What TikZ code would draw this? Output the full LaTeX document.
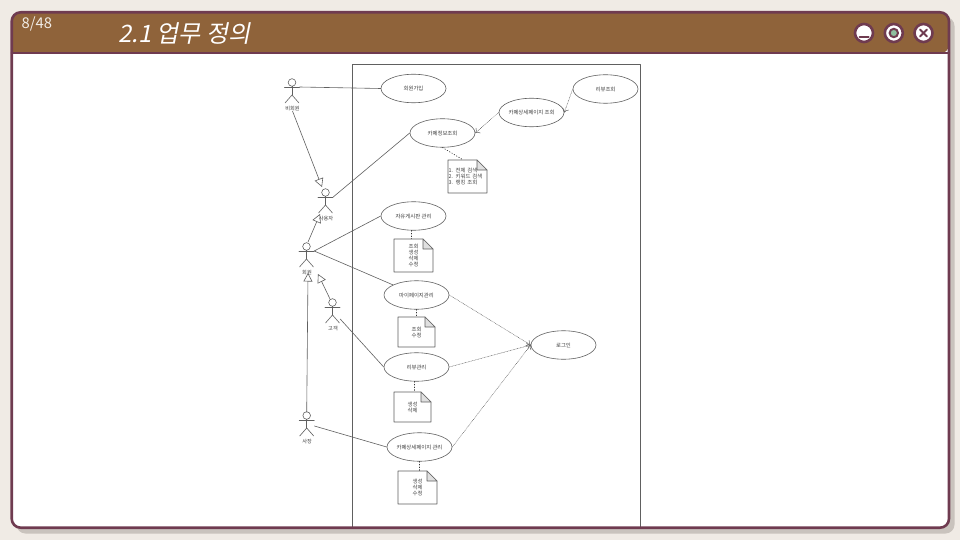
\documentclass[tikz,border=0pt]{standalone}
\usepackage{fontspec}
\setmainfont{Noto Sans CJK KR}
\newfontfamily\titlefont[FakeSlant=0.2]{Noto Sans CJK KR}
\usepackage{tikz}
\usetikzlibrary{shapes,arrows}
\usetikzlibrary{shapes.geometric}
\usetikzlibrary{arrows.meta}
\definecolor{pagebg}{HTML}{F0EBE5}
\definecolor{shadowc}{HTML}{C9C3BD}
\definecolor{framec}{HTML}{6F3B50}
\definecolor{headc}{HTML}{8F633A}
\definecolor{lampc}{HTML}{8FBF9F}
\definecolor{linec}{HTML}{606060}
\tikzstyle{every path}=[line cap=round,line join=round]
\tikzstyle{usecase}=[draw=linec,ellipse,line width=0.6pt,minimum width=65pt,minimum height=28.5pt,inner sep=0pt,font=\fontsize{5.4}{6}\selectfont,text=black!75]
\tikzstyle{notebox}=[inner sep=0pt,align=center,font=\fontsize{5.4}{6}\selectfont,text=black!75]
\tikzstyle{actorname}=[inner sep=0pt,font=\fontsize{5.2}{6}\selectfont,text=black!75]
\tikzstyle{wire}=[draw=linec,line width=0.6pt]
\tikzstyle{inherit}=[wire,-{Triangle[open,length=8.5pt,width=9pt]}]
\tikzstyle{dep}=[draw=linec,line width=0.5pt,densely dotted,-{To[length=4pt,width=7pt]}]
\tikzstyle{attach}=[draw=black!80,line width=0.7pt,dotted]
\tikzstyle{winbutton}=[circle,draw=framec,fill=white,line width=2.6pt,minimum size=18pt,inner sep=0pt]

% stick figure: name, x, y of the arms, label
\newcommand{\actor}[4]{
\node[inner sep=0pt,minimum width=15pt,minimum height=1pt] (#1) at (#2,#3) {};
\draw[wire] (#2,#3-4.5) circle (3.8);
\draw[wire] (#2,#3-0.7) -- (#2,#3+8);
\draw[wire] (#2-7.5,#3) -- (#2+7.5,#3);
\draw[wire] (#2-7,#3+16) -- (#2,#3+8) -- (#2+7,#3+16);
\node[actorname] (#1-label) at (#2+0.5,#3+21.5) {#4};
}
% note with folded corner: options, name, left, top, right, bottom, text
\newcommand{\notepage}[7][]{
\node[notebox,minimum width=#5-#3,minimum height=#6-#4,#1] (#2) at ({(#3+#5)/2},{(#4+#6)/2}) {#7};
\draw[wire] (#3,#4) -- (#5-10,#4) -- (#5,#4+10) -- (#5,#6) -- (#3,#6) -- cycle;
\draw[wire,fill=black!12] (#5-10,#4) -- (#5-10,#4+10) -- (#5,#4+10) -- cycle;
}

\begin{document}
\begin{tikzpicture}[x=1pt,y=-1pt]
\useasboundingbox (0,0) rectangle (960,540);

% window
\fill[pagebg] (0,0) rectangle (960,540);
\fill[shadowc,rounded corners=9pt] (16.5,17) rectangle (954.5,533.5);
\fill[white,rounded corners=9pt] (11.7,12.3) rectangle (949,527.7);
\fill[headc,rounded corners=9pt] (11.7,53.5) -- (11.7,12.3) -- (949,12.3) -- (949,53.5) [sharp corners] -- cycle;

\node[inner sep=0pt,anchor=west,text=pagebg,font=\fontsize{14.8}{16}\selectfont] (pagenum) at (21.5,23.5) {8/48};
\node[inner sep=0pt,anchor=west,text=white,font=\titlefont\fontsize{24}{30}\selectfont] (title) at (118,34) {2.1 업무 정의};

\node[winbutton] (minbtn) at (864,33) {};
\node[winbutton] (lampbtn) at (893.8,33) {};
\node[winbutton] (closebtn) at (923.5,33) {};
\draw[framec,line width=2pt] (859.5,37) -- (868.5,37);
\draw[framec,fill=lampc,line width=2pt] (lampbtn) circle (4.2);
\draw[framec,line width=2pt] (920,29.5) -- (927,36.5);
\draw[framec,line width=2pt] (927,29.5) -- (920,36.5);

% system boundary
\draw[draw=linec,line width=0.7pt] (352.5,64.5) rectangle (640.5,527);

% use cases
\node[usecase] (join) at (413.5,88.5) {회원가입};
\node[usecase] (info) at (442.5,133) {카페정보조회};
\node[usecase] (detail) at (531.5,112.5) {카페상세페이지 조회};
\node[usecase] (review) at (605.5,89) {리뷰조회};
\node[usecase] (board) at (413.5,216) {자유게시판 관리};
\node[usecase] (mypage) at (416.5,295) {마이페이지관리};
\node[usecase] (reviewm) at (416.5,367) {리뷰관리};
\node[usecase] (detailm) at (419.5,447) {카페상세페이지 관리};
\node[usecase] (login) at (563.5,345) {로그인};

% actors
\actor{visitor}{292}{87}{비회원}
\actor{user}{325.5}{197}{사용자}
\actor{member}{306.5}{251}{회원}
\actor{customer}{332.5}{307}{고객}
\actor{owner}{306.7}{420}{사장}

% notes
\notepage[align=left,text width=38pt]{noteinfo}{448}{160}{487}{193}{1. 전체 검색\\2. 키워드 검색\\3. 랭킹 조회}
\notepage{noteboard}{394}{239}{433}{272}{조회\\생성\\삭제\\수정}
\notepage{notemy}{398}{317}{435}{347}{조회\\수정}
\notepage{notereview}{394}{392}{431}{422}{생성\\삭제}
\notepage{notedetail}{398}{471}{437}{504}{생성\\삭제\\수정}

% free ends of the generalisations
\coordinate (usertip) at (322,187);
\coordinate (membertip) at (320,214);
\coordinate (custtip) at (318,274);
\coordinate (ownertip) at (308,273);
\coordinate (custstart) at (330,299);
\coordinate (ownerstart) at (306.7,412);
\coordinate (memberstart) at (308,242);

\draw[inherit] (visitor-label.south) -- (usertip);
\draw[inherit] (memberstart) -- (membertip);
\draw[inherit] (custstart) -- (custtip);
\draw[inherit] (ownerstart) -- (ownertip);

% associations
\draw[wire] (visitor.east) -- (join.west);
\draw[wire] (user.east) -- (info.west);
\draw[wire] (member.east) -- (board.west);
\draw[wire] (member.east) -- (mypage);
\draw[wire] (customer.east) ++(0,12) -- (reviewm.west);
\draw[wire] (owner.east) ++(0,6) -- (detailm.west);

% includes
\draw[dep] (detail.west) -- (info.east);
\draw[dep] (review.west) -- (detail.east);
\draw[dep] (mypage.east) -- (login.west);
\draw[dep] (reviewm.east) -- (login.west);
\draw[dep] (detailm.east) -- (login.west);

% note links
\draw[attach] (info.south) -- ([xshift=-4.5pt]noteinfo.north);
\draw[attach] ([xshift=-2.5pt]board.south) -- ([xshift=-2.5pt]noteboard.north);
\draw[attach] (mypage.south) -- (notemy.north);
\draw[attach] ([xshift=-2pt]reviewm.south) -- ([xshift=2pt]notereview.north);
\draw[attach] (detailm.south) -- ([xshift=2pt]notedetail.north);

% window border on top
\draw[framec,line width=2.6pt,rounded corners=9pt] (11.7,12.3) rectangle (949,527.7);
\draw[framec,line width=2pt] (11.7,53.5) -- (949,53.5);
\end{tikzpicture}
\end{document}
